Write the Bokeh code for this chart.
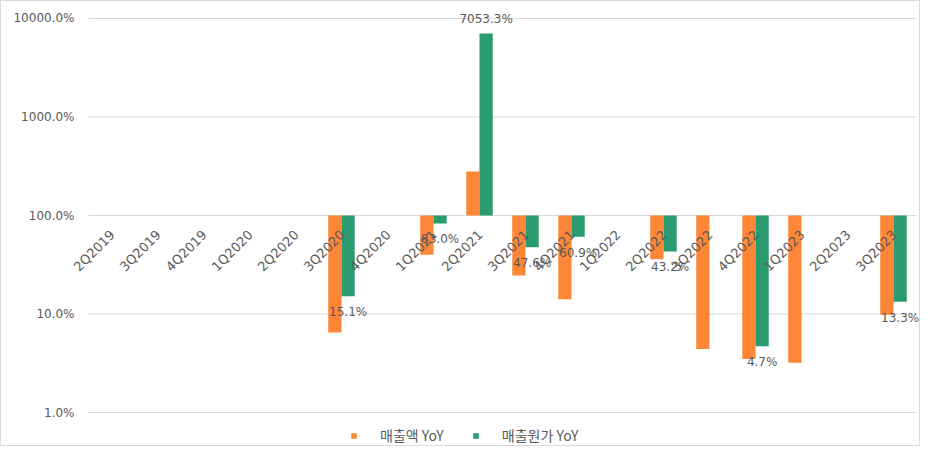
import math
from bokeh.plotting import figure
from bokeh.models import ColumnDataSource, Range1d, Legend, LegendItem
from bokeh.core.properties import value
from bokeh.embed import file_html
from bokeh.resources import INLINE

categories = ["2Q2019", "3Q2019", "4Q2019", "1Q2020", "2Q2020", "3Q2020",
              "4Q2020", "1Q2021", "2Q2021", "3Q2021", "4Q2021", "1Q2022",
              "2Q2022", "3Q2022", "4Q2022", "1Q2023", "2Q2023", "3Q2023"]
nan = float("nan")
sales_yoy = [nan, nan, nan, nan, nan, 6.5, nan, 40.0, 280.0, 24.6, 14.1, nan,
             36.0, 4.4, 3.5, 3.2, nan, 9.8]
cogs_yoy = [nan, nan, nan, nan, nan, 15.1, nan, 83.0, 7053.3, 47.6, 60.9, nan,
            43.2, nan, 4.7, nan, nan, 13.3]
y_ticks = [1, 10, 100, 1000, 10000]
series_names = ["매출액 YoY", "매출원가 YoY"]

ORANGE = "#FD8637"
GREEN = "#2A9B6E"
GREY = "#595959"
FONT = value("DejaVu Sans")

n = len(categories)
bw = 0.288
xc = [i + 0.5 for i in range(n)]          # category centres on the numeric axis
src = ColumnDataSource(dict(cat=categories, xc=xc,
                            xs=[x - bw / 2 for x in xc], xg=[x + bw / 2 for x in xc],
                            sales=sales_yoy, cogs=cogs_yoy, base=[100] * n))

cat_px = 46.0
p = figure(width=920, height=446,
           x_range=Range1d(-87 / cat_px, n + 5 / cat_px),
           y_axis_type="log", y_range=Range1d(10 ** -0.3553, 10 ** 4.0812),
           output_backend="svg", toolbar_location=None,
           min_border_left=0, min_border_right=0, min_border_top=9,
           min_border_bottom=0)
p.outline_line_color = None
p.xaxis.visible = False
p.yaxis.visible = False
p.xgrid.grid_line_color = None
p.ygrid.grid_line_color = None

# horizontal gridlines spanning the category area
p.segment(x0=[0] * len(y_ticks), x1=[n] * len(y_ticks), y0=y_ticks, y1=y_ticks,
          line_color="#D9D9D9", line_width=1)
# y tick labels
p.text(x=[0] * len(y_ticks), y=y_ticks, text=[f"{t:.1f}%" for t in y_ticks],
       x_offset=-14, text_align="right", text_baseline="middle",
       text_font=FONT, text_font_size="12px", text_color=GREY)

r1 = p.vbar(x="xs", bottom="base", top="sales", width=bw, source=src,
            fill_color=ORANGE, line_color=None)
r2 = p.vbar(x="xg", bottom="base", top="cogs", width=bw, source=src,
            fill_color=GREEN, line_color=None)

# category labels along the 100% baseline
p.text(x="xc", y="base", text="cat", source=src, angle=math.pi / 4,
       text_align="right", text_baseline="middle", y_offset=17, x_offset=1,
       text_font=FONT, text_font_size="13px", text_color=GREY)

# data labels for the second series
lab_x, lab_y, lab_t, lab_off = [], [], [], []
for x, v in zip(xc, cogs_yoy):
    if not math.isnan(v):
        lab_x.append(x + bw / 2)
        lab_y.append(v)
        lab_t.append(f"{v:.1f}%")
        lab_off.append(16 if v < 100 else -14)
lsrc = ColumnDataSource(dict(x=lab_x, y=lab_y, t=lab_t, off=lab_off))
p.text(x="x", y="y", text="t", y_offset="off", source=lsrc,
       text_align="center", text_baseline="middle", text_font=FONT,
       text_font_size="12px", text_color=GREY)

legend = Legend(items=[LegendItem(label=series_names[0], renderers=[r1]),
                       LegendItem(label=series_names[1], renderers=[r2])],
                orientation="horizontal", location=(349, 2),
                glyph_width=7, glyph_height=7, label_standoff=23, spacing=28,
                padding=0, margin=0, border_line_color=None,
                background_fill_alpha=0,
                label_text_font="Noto Sans CJK KR", label_text_font_size="14px",
                label_text_color=GREY, label_height=14)
p.add_layout(legend)
p.styles = {"border": "1px solid #D9D9D9"}

open("out.html", "w").write(file_html(p, INLINE))
